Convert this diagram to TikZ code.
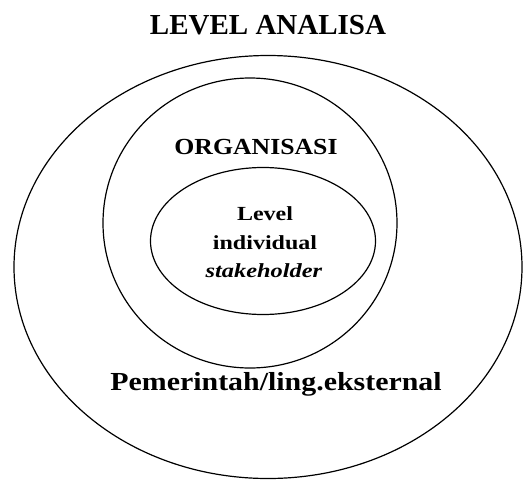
\documentclass[tikz,border=0pt]{standalone}
\usepackage{fontspec}
\usepackage{graphicx}
\setmainfont{Liberation Serif}
\usetikzlibrary{shapes.geometric}
\begin{document}
\begin{tikzpicture}[x=1pt,y=-1pt,
  ring/.style={draw=black,line width=1.2pt,ellipse,inner sep=0pt},
  lbl/.style={inner sep=0pt,anchor=base}]
\useasboundingbox (0,0) rectangle (523,480);
\node[ring,minimum width=508pt,minimum height=423pt] (outer) at (268,267) {};
\node[ring,minimum width=294pt,minimum height=290pt] (middle) at (250,223) {};
\node[ring,minimum width=225pt,minimum height=147pt] (inner) at (263,241) {};
\node[lbl,font=\fontsize{29}{30}\selectfont\bfseries] (title) at (268,34) {LEVEL ANALISA};
\node[lbl,font=\fontsize{23}{23}\selectfont\bfseries] (org) at (256,154) {\scalebox{1.12}[1]{ORGANISASI}};
\node[lbl,font=\fontsize{20}{20}\selectfont\bfseries] (ind1) at (265,220) {\scalebox{1.2}[1]{Level}};
\node[lbl,font=\fontsize{20}{20}\selectfont\bfseries] (ind2) at (265,249) {\scalebox{1.2}[1]{individual}};
\node[lbl,font=\fontsize{20}{20}\selectfont\bfseries] (ind3) at (264,277) {\scalebox{1.22}[1]{\textit{stakeholder}}};
\node[lbl,font=\fontsize{26}{30}\selectfont\bfseries] (gov) at (276,390) {\scalebox{1.15}[1]{Pemerintah/ling.eksternal}};
\end{tikzpicture}
\end{document}
